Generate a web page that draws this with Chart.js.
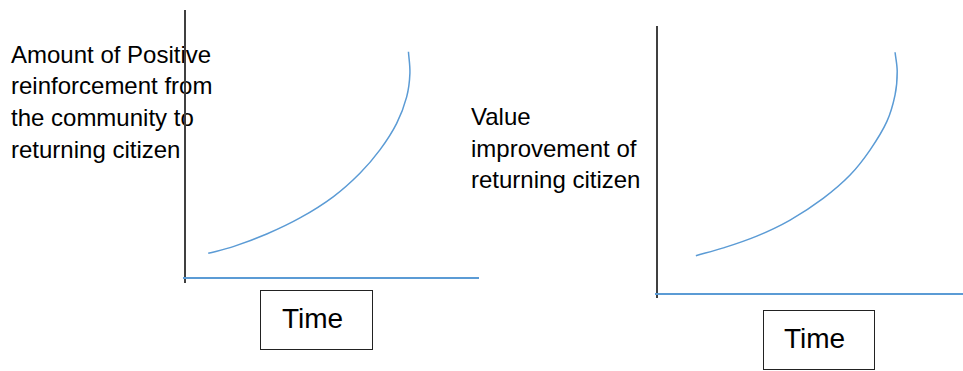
<!DOCTYPE html>
<html>
<head>
<meta charset="utf-8">
<script src="https://cdn.jsdelivr.net/npm/chart.js@4/dist/chart.umd.min.js"></script>
<style>
  body { margin: 0; background: #fff; width: 963px; height: 371px; overflow: hidden; position: relative; font-family: "Liberation Sans", Arial, sans-serif; }
  .lbl { position: absolute; font-size: 24px; line-height: 31.7px; color: #000; white-space: nowrap; }
  .timebox { position: absolute; border: 1px solid #222; box-sizing: border-box; font-size: 28px; color: #000; }
  canvas { position: absolute; top: 0; }
</style>
</head>
<body>
<div class="lbl" id="lblLeft" style="left:11px; top:38.5px;"></div>
<div class="lbl" id="lblRight" style="left:471px; top:101px;"></div>
<div class="timebox" style="left:260px; top:290px; width:113px; height:60px; padding-left:21px; line-height:55px;">Time</div>
<div class="timebox" style="left:763px; top:310px; width:112px; height:60px; padding-left:20px; line-height:56px;">Time</div>
<canvas id="chartLeft" width="481" height="371" style="left:0"></canvas>
<canvas id="chartRight" width="482" height="371" style="left:481px"></canvas>
<script>
// axis titles
const leftTitle = ["Amount of Positive", "reinforcement from", "the community to", "returning citizen"];
const rightTitle = ["Value", "improvement of", "returning citizen"];

// curves, both axes 0..100
const leftX = [7.9, 16.4, 27.8, 39.1, 50.4, 59.5, 66.3, 72.0, 75.4, 76.5, 76.0];
const leftY = [9.2, 11.7, 16.4, 22.4, 30.3, 39.1, 47.8, 57.7, 67.6, 76.4, 84.4];
const rightX = [12.7, 21.7, 32.6, 43.5, 54.3, 63.1, 69.6, 75.1, 77.8, 78.5, 77.8];
const rightY = [14.3, 17.2, 21.6, 27.6, 35.7, 44.4, 53.7, 64.3, 74.3, 83.0, 90.2];

document.querySelector('#lblLeft').innerHTML = leftTitle.join('<br>');
document.querySelector('#lblRight').innerHTML = rightTitle.join('<br>');

const axesLines = {
    id: 'axesLines',
    beforeDatasetsDraw(chart, args, opts) {
        const ctx = chart.ctx;
        const xs = chart.scales.x;
        const ys = chart.scales.y;
        const x0 = xs.getPixelForValue(0);
        const y0 = ys.getPixelForValue(0);
        ctx.save();
        ctx.lineWidth = 2;
        ctx.strokeStyle = '#404040';
        ctx.beginPath();
        ctx.moveTo(x0, ys.getPixelForValue(100));
        ctx.lineTo(x0, y0 + opts.below);
        ctx.stroke();
        ctx.strokeStyle = '#5b9bd5';
        ctx.beginPath();
        ctx.moveTo(x0 - 2, y0);
        ctx.lineTo(chart.chartArea.right, y0);
        ctx.stroke();
        ctx.restore();
    }
};

function makeChart(canvas, xs, ys, padding, below) {
    return new Chart(canvas, {
        type: 'scatter',
        data: {
            datasets: [{
                data: xs.map((x, i) => ({ x: x, y: ys[i] })),
                showLine: true,
                borderColor: '#5b9bd5',
                borderWidth: 1.5,
                pointRadius: 0,
                tension: 0.35,
                clip: false
            }]
        },
        options: {
            responsive: false,
            animation: false,
            devicePixelRatio: 1,
            layout: { padding: padding },
            plugins: { legend: { display: false }, tooltip: { enabled: false }, axesLines: { below: below } },
            scales: {
                x: { type: 'linear', min: 0, max: 100, display: false },
                y: { type: 'linear', min: 0, max: 100, display: false }
            }
        },
        plugins: [axesLines]
    });
}

makeChart(document.querySelector('#chartLeft'), leftX, leftY, { left: 185, right: 2, top: 10, bottom: 93 }, 5);
makeChart(document.querySelector('#chartRight'), rightX, rightY, { left: 176, right: 0, top: 26, bottom: 77 }, 4);
</script>
</body>
</html>
